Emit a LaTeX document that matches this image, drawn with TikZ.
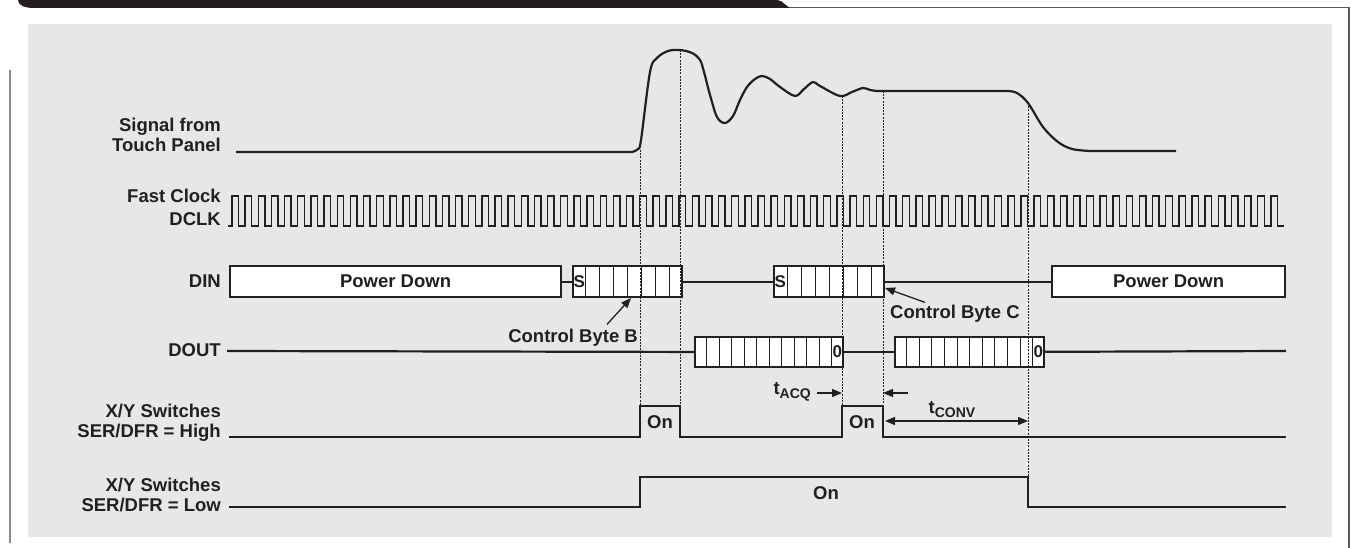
\documentclass[tikz,border=0pt]{standalone}
\usepackage{fontspec}
\setmainfont{Liberation Sans}
\usepackage{xcolor}
\definecolor{panel}{HTML}{E6E7E8}
\definecolor{frame}{HTML}{58595B}
\definecolor{ink}{HTML}{231F20}
\usepackage{tikz}
\usetikzlibrary{arrows.meta,positioning,calc}
\newcommand{\tsub}[2]{#1\raisebox{-4pt}{\fontsize{14pt}{14pt}\selectfont #2}}
\tikzset{
  >={Triangle[length=10pt,width=8pt]},
  font=\bfseries\fontsize{18.5pt}{20pt}\selectfont,
  lbl/.style={anchor=east,align=right,inner sep=0pt,text=ink},
  txt/.style={inner sep=0pt,text=ink},
  small/.style={inner sep=0pt,text=ink,font=\bfseries\fontsize{17pt}{17pt}\selectfont},
  wave/.style={draw=ink,line width=2.2pt,line join=miter},
  clkline/.style={draw=ink,line width=1.4pt},
  bytebox/.style={draw=ink,line width=2.2pt,fill=white,inner sep=0pt,anchor=north west,text=ink},
  cell/.style={draw=ink,line width=1pt},
  guide/.style={draw=ink,line width=0.9pt,dash pattern=on 2pt off 1.2pt},
  ptr/.style={->,draw=ink,line width=1.3pt},
}

\begin{document}
\begin{tikzpicture}[x=1pt,y=-1pt]
  \useasboundingbox (0,0) rectangle (1351,548);
  \fill[panel] (28,24) rectangle (1332,537);
  \fill[ink] (18,0) -- (777,0) .. controls (784,0) and (785,8) .. (793,8) -- (34,8) .. controls (24,8) and (18,5) .. (18,0);
  \draw[frame,line width=1.2pt] (790,7.5) -- (1349,7.5) -- (1349,548);
  \draw[frame!70,line width=2pt] (10,70) -- (10,543);

  \node[lbl] (sig) at (221,135) {Signal from\\Touch Panel};
  \node[lbl] (clk) at (221,207) {Fast Clock\\[3pt]DCLK};
  \node[lbl] (din) at (221,281.5) {DIN};
  \node[lbl] (dout) at (221,350) {DOUT};
  \node[lbl] (swh) at (221,423) {X/Y Switches\\SER/DFR = High};
  \node[lbl] (swl) at (221,494.5) {X/Y Switches\\SER/DFR = Low};

  \draw[wave,line join=round] (236,152) -- (632,152) -- plot[smooth,tension=0.55] coordinates {(632,152) (638,149) (641,140)
    (650,72) (657,58) (668,51) (680,50) (692,53) (700,60) (704,72) (710,95) (717,117) (725,123) (733,116) (740,100)
    (747,87) (755,79) (762,76) (770,79) (780,87) (795,96) (804,89) (813,82) (820,86) (840,96) (852,92) (863,88)
    (870,90) (877,91)} -- (1008,91) -- plot[smooth,tension=0.55] coordinates {(1008,91) (1017,93) (1028,103)
    (1043,127) (1058,142) (1072,149) (1090,151)} -- (1176,151);

  \draw[clkline] (228,226) -- (232,226) \foreach \i in {0,...,79}{ -- ++(0,-30) -- ++(6.575,0) -- ++(0,30) -- ++(6.575,0)};

  \node[bytebox,minimum width=331pt,minimum height=31pt] (pd1) at (229,265) {Power Down};
  \node[bytebox,minimum width=109pt,minimum height=31pt] (cbb) at (572,265) {};
  \node[bytebox,minimum width=110pt,minimum height=31pt] (cbc) at (773,265) {};
  \node[bytebox,minimum width=233pt,minimum height=31pt] (pd2) at (1051,265) {Power Down};
  \draw[wave] (pd1) -- (cbb);
  \draw[wave] (cbb) -- (cbc);
  \draw[wave] (cbc) -- (pd2);
  \foreach \b in {cbb,cbc}{
    \foreach \k in {1,...,7}
      \draw[cell] ($(\b.north west)!\k/8!(\b.north east)$) -- ($(\b.south west)!\k/8!(\b.south east)$);
    \node[small,anchor=west] (s\b) at ($(\b.west)+(1.5,0)$) {S};
  }

  \coordinate (dl) at (227,351);
  \coordinate (dr) at (1286,351);
  \node[bytebox,minimum width=148pt,minimum height=30pt] (do1) at (694,336) {};
  \node[bytebox,minimum width=149pt,minimum height=30pt] (do2) at (894,336) {};
  \draw[wave] (dl) -- (do1);
  \draw[wave] (do1) -- (do2);
  \draw[wave] (do2) -- (dr);
  \foreach \b in {do1,do2}{
    \foreach \k in {1,...,11}
      \draw[cell] ($(\b.north west)!\k/12!(\b.north east)$) -- ($(\b.south west)!\k/12!(\b.south east)$);
    \node[small,anchor=east] (z\b) at ($(\b.east)+(-2,0)$) {0};
  }

  \draw[wave] (229,437) -- (640,437) -- (640,406) -- (680,406) -- (680,437) -- (842,437) -- (842,406) -- (883,406)
    -- (883,437) -- (1286,437);
  \draw[wave] (229,507) -- (640,507) -- (640,477) -- (1028,477) -- (1028,507) -- (1286,507);
  \node[txt] (on1) at (660,422.5) {On};
  \node[txt] (on2) at (862,422.5) {On};
  \node[txt] (on3) at (826,493) {On};

  \node[txt,anchor=base east] (cbbl) at (638,342) {Control Byte B};
  \node[txt,anchor=base west] (cbcl) at (890,318) {Control Byte C};
  \coordinate (cbbt) at (631,298);
  \coordinate (cbct) at (885,288);
  \draw[ptr] ($(cbbl.north east)+(-31,-4)$) -- (cbbt);
  \draw[ptr] ($(cbcl.north west)+(35,-2)$) -- (cbct);

  \node[txt,anchor=base east] (tacq) at (811,394) {\tsub{t}{ACQ}};
  \coordinate (acqr) at (842,393);
  \coordinate (convl) at (883,393);
  \draw[ptr] (tacq.east |- acqr) ++(6,0) -- (acqr);
  \draw[ptr] ($(convl)+(25,0)$) -- (convl);
  \node[txt,anchor=base] (tconv) at (952,413) {\tsub{t}{CONV}};
  \coordinate (cva) at (885,421);
  \coordinate (cvb) at (1028,421);
  \draw[ptr,<->] (cva) -- (cvb);

  \foreach \gx/\gy/\gz in {640/150/406, 680/50/406, 842/96/406, 883/91/406, 1028/103/477}
    \draw[guide] (\gx,\gy) -- (\gx,\gz);
\end{tikzpicture}
\end{document}
